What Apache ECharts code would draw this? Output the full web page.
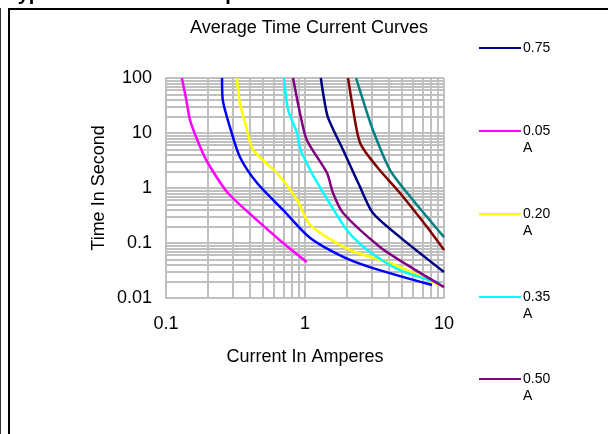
<!DOCTYPE html>
<html>
<head>
<meta charset="utf-8">
<script src="https://cdn.jsdelivr.net/npm/echarts@6/dist/echarts.min.js"></script>
<style>
html,body{margin:0;padding:0;background:#fff;}
#chart{width:608px;height:434px;}
</style>
</head>
<body>
<div id="chart"></div>
<script>
// ---- data (current in A, time in s) ----
var s005 = [[0.130,100],[0.140,40],[0.149,17],[0.176,5.6],[0.200,2.85],[0.279,0.81],[0.452,0.26],[0.695,0.1],[1.03,0.045]];
var s010 = [[0.253,100],[0.256,40],[0.288,12.9],[0.340,3.66],[0.452,1.23],[0.695,0.40],[1.09,0.123],[1.88,0.056],[3.08,0.035],[8.2,0.0172]];
var s020 = [[0.324,100],[0.340,35],[0.383,11.3],[0.423,4.9],[0.629,1.87],[0.877,0.605],[1.09,0.212],[2.11,0.0746],[4.09,0.0433],[9.36,0.0172]];
var s035 = [[0.706,100],[0.757,26],[0.877,10],[0.92,5.3],[1.09,2.12],[1.28,1.04],[2.0,0.172],[2.79,0.075],[4.82,0.032],[9.36,0.0187]];
var s050 = [[0.82,100],[0.92,23.1],[1.03,7.46],[1.44,1.87],[1.59,0.81],[1.88,0.351],[3.46,0.0846],[5.42,0.04],[10,0.0158]];
var s075 = [[1.30,100],[1.35,53],[1.46,19.5],[1.88,4.9],[2.49,1.04],[3.08,0.351],[4.82,0.128],[10,0.0297]];
var s100 = [[2.04,100],[2.18,35.1],[2.49,6.6],[3.30,2.41],[4.82,0.81],[7.55,0.195],[10,0.0746]];
var s125 = [[2.33,100],[2.61,40],[3.08,11.3],[4.09,2.12],[5.98,0.605],[10,0.128]];

var seriesNames = ['0.05 A','0.10 A','0.20 A','0.35 A','0.50 A','0.75','1.00 A','1.25 A'];
var seriesColors = ['#FF00FF','#0000FF','#FFFF00','#00FFFF','#800080','#000080','#800000','#008080'];
var seriesData = [s005, s010, s020, s035, s050, s075, s100, s125];

var legendNames = ['0.75','0.05 A','0.20 A','0.35 A','0.50 A'];
var legendLineY = [49, 132, 215, 298, 380];

var xTicks = [0.1, 1, 10];
var yTicks = [0.01, 0.1, 1, 10, 100];
var xMinorGrid = [0.2,0.3,0.4,0.5,0.6,0.7,0.8,0.9,2,3,4,5,6,7,8,9];
var yMinorGrid = [0.02,0.03,0.04,0.05,0.06,0.07,0.08,0.09,0.2,0.3,0.4,0.5,0.6,0.7,0.8,0.9,2,3,4,5,6,7,8,9,20,30,40,50,60,70,80,90];

var FONT = "'Liberation Sans', Arial, sans-serif";
var GRID = '#C0C0C0';

function fmt(v){ return String(+(+v).toPrecision(3)); }

var series = seriesData.map(function(d, i){
  return {
    name: seriesNames[i], type: 'line', data: d, smooth: 0.25,
    showSymbol: false, symbol: 'none', z: 10,
    lineStyle: {color: seriesColors[i], width: 2.5},
    itemStyle: {color: seriesColors[i]},
    emphasis: {disabled: true}
  };
});

var gridLines = xMinorGrid.map(function(v){ return {xAxis: v}; })
  .concat(yMinorGrid.map(function(v){ return {yAxis: v}; }));

series.unshift({
  name: 'grid', type: 'line', data: [], z: 1, silent: true,
  markLine: {
    z: 1, zlevel: 0,
    silent: true, symbol: ['none','none'], label: {show: false},
    lineStyle: {color: GRID, width: 2, type: 'solid'},
    emphasis: {disabled: true},
    data: gridLines
  }
});

var legends = legendNames.map(function(n, i){
  var multi = n.indexOf(' ') >= 0;
  return {
    data: [n], orient: 'vertical', left: 479, padding: 0,
    top: legendLineY[i] - 1 - (multi ? 25.5 : 8.5),
    icon: 'rect', itemWidth: 42, itemHeight: 2, selectedMode: false,
    formatter: function(name){
      return name.indexOf(' ') >= 0 ? ' \n' + name.replace(' ', '\n') : name;
    },
    textStyle: {fontFamily: FONT, fontSize: 14, lineHeight: 17, color: '#000', padding: [0,0,0,-3]}
  };
});

var chart = echarts.init(document.getElementById('chart'), null, {renderer: 'canvas'});
chart.setOption({
  animation: false,
  backgroundColor: '#fff',
  title: {
    text: 'Average Time Current Curves', left: 304, textAlign: 'center', top: 14,
    textStyle: {fontFamily: FONT, fontSize: 18, fontWeight: 'normal', color: '#000'}
  },
  legend: legends,
  grid: {left: 166, right: 164, top: 78, bottom: 136, containLabel: false},
  xAxis: {
    type: 'log', logBase: 10, min: 0.1, max: 10,
    name: 'Current In Amperes', nameLocation: 'middle', nameGap: 50,
    nameTextStyle: {fontFamily: FONT, fontSize: 18, color: '#000'},
    axisLine: {show: true, onZero: false, lineStyle: {color: GRID, width: 2}},
    axisTick: {show: false},
    axisLabel: {fontFamily: FONT, fontSize: 18, color: '#000', margin: 17, formatter: fmt},
    splitLine: {show: true, lineStyle: {color: GRID, width: 2}}
  },
  yAxis: {
    type: 'log', logBase: 10, min: 0.01, max: 100,
    name: 'Time In Second', nameLocation: 'middle', nameGap: 58,
    nameTextStyle: {fontFamily: FONT, fontSize: 18, color: '#000'},
    axisLine: {show: true, onZero: false, lineStyle: {color: GRID, width: 2}},
    axisTick: {show: false},
    axisLabel: {fontFamily: FONT, fontSize: 18, color: '#000', margin: 14, formatter: fmt},
    splitLine: {show: true, lineStyle: {color: GRID, width: 2}}
  },
  graphic: [
    {type: 'rect', silent: true, shape: {x: 9, y: 9, width: 700, height: 500},
     style: {fill: 'none', stroke: '#000', lineWidth: 2}},
    {type: 'line', silent: true, shape: {x1: 0.5, y1: 8, x2: 0.5, y2: 434},
     style: {stroke: '#333', lineWidth: 1}},
    {type: 'text', silent: true, x: 7, y: 4,
     style: {text: 'Typical Time Current Operation', font: 'bold 20px ' + FONT, fill: '#000', verticalAlign: 'bottom', align: 'left'}}
  ],
  series: series
});
</script>
</body>
</html>
